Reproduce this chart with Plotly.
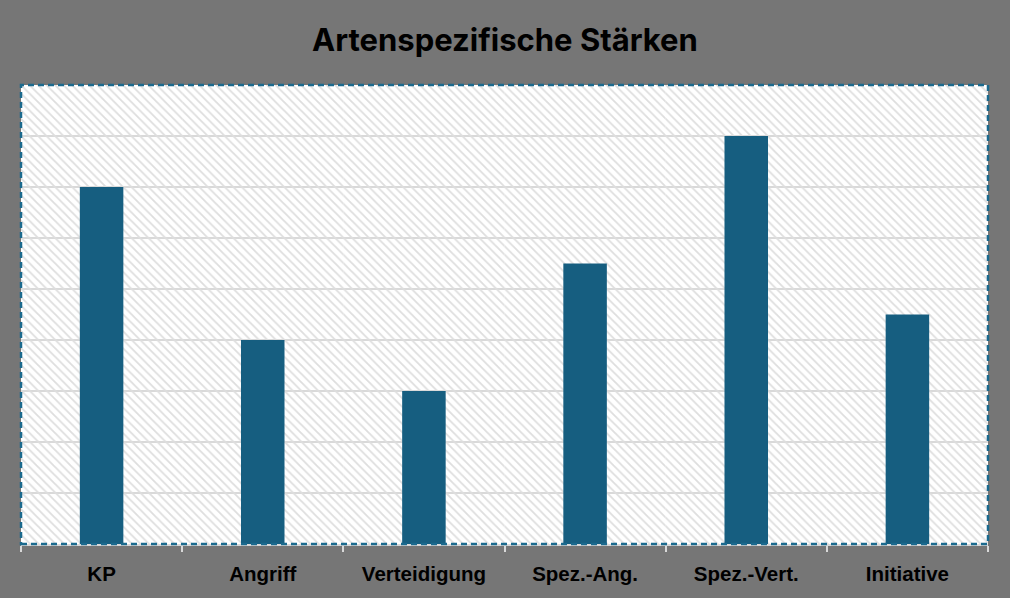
import plotly.graph_objects as go

categories = ["KP", "Angriff", "Verteidigung", "Spez.-Ang.", "Spez.-Vert.", "Initiative"]
values = [7, 4, 3, 5.5, 8, 4.5]
axis_max = 9

BG = "#767676"
BAR = "#165E80"
GRID = "#d9d9d9"

fig = go.Figure()

# hatched plot-area background
fig.add_trace(go.Bar(
    x=categories, y=[axis_max] * len(categories), width=1,
    marker=dict(color="rgba(0,0,0,0)", line=dict(width=0),
                pattern=dict(shape="\\", fgcolor="#dedede", bgcolor="rgba(0,0,0,0)",
                             size=6, solidity=0.3, fillmode="replace")),
    hoverinfo="skip", showlegend=False,
))

fig.add_trace(go.Bar(
    x=categories, y=values, width=0.27,
    marker=dict(color=BAR, line=dict(width=0)),
    showlegend=False,
))

fig.update_layout(
    width=1010, height=598,
    paper_bgcolor=BG, plot_bgcolor="white",
    barmode="overlay",
    margin=dict(l=21, r=22, t=85, b=54),
    title=dict(text="<b>Artenspezifische Stärken</b>", x=0.5, xanchor="center",
               y=1 - 40 / 598, yanchor="middle",
               font=dict(family="Inter, Liberation Sans, Arial", size=31, color="black")),
    xaxis=dict(
        type="category", range=[-0.5, 5.5],
        showgrid=False, showline=True, linecolor=GRID, linewidth=2,
        ticks="outside", tickson="boundaries", ticklen=6, tickcolor=GRID, tickwidth=2,
        tickfont=dict(family="Liberation Sans, Arial",
                      size=20.5, color="black", weight="bold"),
        ticklabelstandoff=10,
    ),
    yaxis=dict(
        range=[0, axis_max], dtick=1, showgrid=True, gridcolor=GRID, gridwidth=1.5,
        showticklabels=False, zeroline=False, showline=False,
    ),
    shapes=[dict(type="rect", xref="paper", yref="paper", x0=0, x1=1, y0=0, y1=1,
                 line=dict(color="#1B6A8E", width=2.5, dash="6px,4px"), layer="above")],
)

fig.write_html("out.html", config={"displayModeBar": False},
               post_script="document.body.style.margin='0';document.body.style.overflow='hidden';")
